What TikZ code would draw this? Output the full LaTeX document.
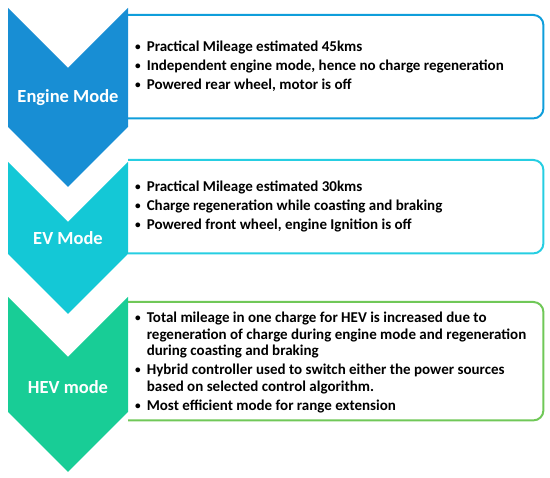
\documentclass[tikz,border=0pt]{standalone}
\usepackage{fontspec}
\usepackage{graphicx}
\setmainfont{Carlito}
\definecolor{engchev}{RGB}{24,142,212}
\definecolor{engline}{RGB}{15,158,219}
\definecolor{evchev}{RGB}{20,200,214}
\definecolor{evline}{RGB}{38,206,226}
\definecolor{hevchev}{RGB}{24,205,150}
\definecolor{hevline}{RGB}{112,200,88}
\tikzset{
  modebox/.style={anchor=north west, minimum width=415pt, inner sep=0pt},
  boxline/.style={draw=#1, line width=2pt, rounded corners=10pt},
  modelabel/.style={text=white, font=\bfseries\fontsize{18.5}{22}\selectfont, inner sep=0pt},
  points/.style={anchor=west, inner sep=0pt, font=\bfseries\fontsize{15}{16.8}\selectfont}
}
\newcommand{\pts}[1]{\begin{tabular}{@{}l@{\hspace{6pt}}l@{}}#1\end{tabular}}
\newcommand{\dotb}{\raisebox{0.9pt}{\scalebox{0.75}{\textbullet}}}
\begin{document}
\begin{tikzpicture}[>=stealth, x=1pt, y=-1pt]
\useasboundingbox (0,0) rectangle (550,478);
% boxes, open on the chevron side
\node[modebox, minimum height=103pt] (engbox) at (128,15) {};
\node[modebox, minimum height=93pt] (evbox) at (128,160) {};
\node[modebox, minimum height=118pt] (hevbox) at (128,302) {};
\draw[boxline=engline] (engbox.north west) -- (engbox.north east) -- (engbox.south east) -- (engbox.south west);
\draw[boxline=evline] (evbox.north west) -- (evbox.north east) -- (evbox.south east) -- (evbox.south west);
\draw[boxline=hevline] (hevbox.north west) -- (hevbox.north east) -- (hevbox.south east) -- (hevbox.south west);
% chevrons
\fill[engchev] (8,8) -- (68,68) -- (128,8) -- (128,127) -- (68,187) -- (8,127) -- cycle;
\fill[evchev] (8,162) -- (68,222) -- (128,162) -- (128,254) -- (68,314) -- (8,254) -- cycle;
\fill[hevchev] (8,297) -- (68,357) -- (128,297) -- (128,412) -- (68,472) -- (8,412) -- cycle;
\node[modelabel] (englbl) at (68,98) {Engine Mode};
\node[modelabel] (evlbl) at (68,238) {EV Mode};
\node[modelabel] (hevlbl) at (68,387) {HEV mode};
% texts
\node[points] (engtxt) at (135,67) {\pts{%
\dotb & Practical Mileage estimated 45kms\\[2pt]
\dotb & Independent engine mode, hence no charge regeneration\\[2pt]
\dotb & Powered rear wheel, motor is off}};
\node[points] (evtxt) at (135,207) {\pts{%
\dotb & Practical Mileage estimated 30kms\\[2pt]
\dotb & Charge regeneration while coasting and braking\\[2pt]
\dotb & Powered front wheel, engine Ignition is off}};
\node[points] (hevtxt) at (135,363) {\pts{%
\dotb & Total mileage in one charge for HEV is increased due to\\
 & regeneration of charge during engine mode and regeneration\\
 & during coasting and braking\\[2pt]
\dotb & Hybrid controller used to switch either the power sources\\
 & based on selected control algorithm.\\[2pt]
\dotb & Most efficient mode for range extension}};
\end{tikzpicture}
\end{document}
